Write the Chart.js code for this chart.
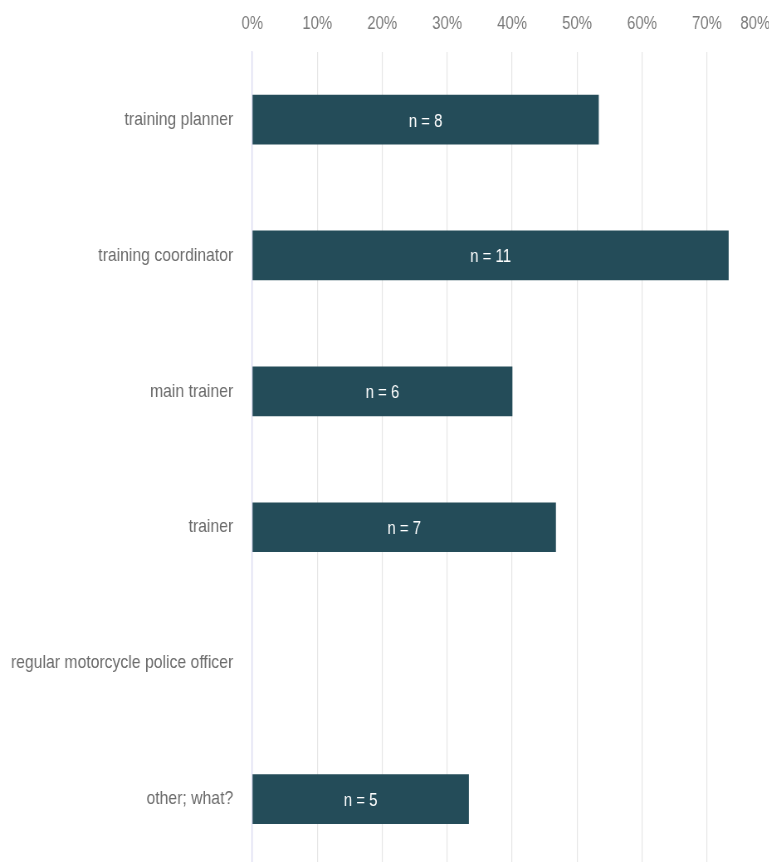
<!DOCTYPE html>
<html>
<head>
<meta charset="utf-8">
<script src="https://cdn.jsdelivr.net/npm/chart.js@4/dist/chart.umd.min.js"></script>
<style>
  html, body { margin: 0; padding: 0; background: #ffffff; overflow: hidden; }
  /* the chart is laid out wide and shown horizontally condensed */
  #wrap {
    position: relative;
    width: 930px;
    height: 868px;
    transform: scaleX(0.83);
    transform-origin: 0 0;
  }
</style>
</head>
<body>
<div id="wrap"><canvas id="chart"></canvas></div>
<script>
// Roles of respondents, share of respondents (%) and group sizes
const roles = [
  'training planner',
  'training coordinator',
  'main trainer',
  'trainer',
  'regular motorcycle police officer',
  'other; what?'
];
const sharePercent = [53.3, 73.3, 40.0, 46.7, 0, 33.3];
const respondentCounts = [8, 11, 6, 7, 0, 5];
const percentTicks = [0, 10, 20, 30, 40, 50, 60, 70, 80];

const BAR_COLOR = '#244c59';
const FONT = '"Liberation Sans", Arial, sans-serif';

// Writes "n = …" in the middle of each non-empty bar
const countLabels = {
  id: 'countLabels',
  afterDatasetsDraw(chart) {
    const ctx = chart.ctx;
    const meta = chart.getDatasetMeta(0);
    ctx.save();
    ctx.font = '18px ' + FONT;
    ctx.fillStyle = '#ffffff';
    ctx.textAlign = 'center';
    ctx.textBaseline = 'middle';
    meta.data.forEach((bar, i) => {
      const n = respondentCounts[i];
      if (!n) return;
      const p = bar.getProps(['x', 'y', 'base'], true);
      ctx.fillText('n = ' + n, (p.x + p.base) / 2, p.y + 2);
    });
    ctx.restore();
  }
};

new Chart(document.getElementById('chart'), {
  type: 'bar',
  data: {
    labels: roles,
    datasets: [{
      data: sharePercent,
      backgroundColor: ctx => (ctx.raw ? BAR_COLOR : 'rgba(0,0,0,0)'),
      borderWidth: 0,
      barThickness: 49
    }]
  },
  options: {
    indexAxis: 'y',
    responsive: true,
    maintainAspectRatio: false,
    animation: false,
    layout: { padding: { top: -4, right: 0, bottom: 1, left: 0 } },
    plugins: {
      legend: { display: false },
      tooltip: { enabled: false }
    },
    scales: {
      x: {
        position: 'top',
        min: 0,
        max: 80,
        afterBuildTicks(scale) {
          scale.ticks = percentTicks.map(v => ({ value: v }));
        },
        afterFit(scale) {
          scale.paddingLeft = 0;
          scale.paddingRight = 0;
        },
        border: { display: false },
        grid: {
          drawTicks: false,
          color: ctx => (ctx.tick && ctx.tick.value === 0) ? '#d9d9f0' : '#e6e6e6',
          lineWidth: 1.2
        },
        ticks: {
          padding: 17,
          autoSkip: false,
          maxRotation: 0,
          minRotation: 0,
          color: '#7a7a7a',
          font: { family: FONT, size: 18 },
          callback: v => v === 80 ? '80%        ' : v + '%'
        }
      },
      y: {
        afterFit(scale) {
          scale.width = 304;
          scale.paddingTop = 0;
          scale.paddingBottom = 0;
        },
        border: { display: true, color: '#d9d9f0', width: 1.2 },
        grid: { display: false, drawTicks: false },
        ticks: {
          padding: 23,
          color: '#6b6b6b',
          font: { family: FONT, size: 19 }
        }
      }
    }
  },
  plugins: [countLabels]
});
</script>
</body>
</html>
